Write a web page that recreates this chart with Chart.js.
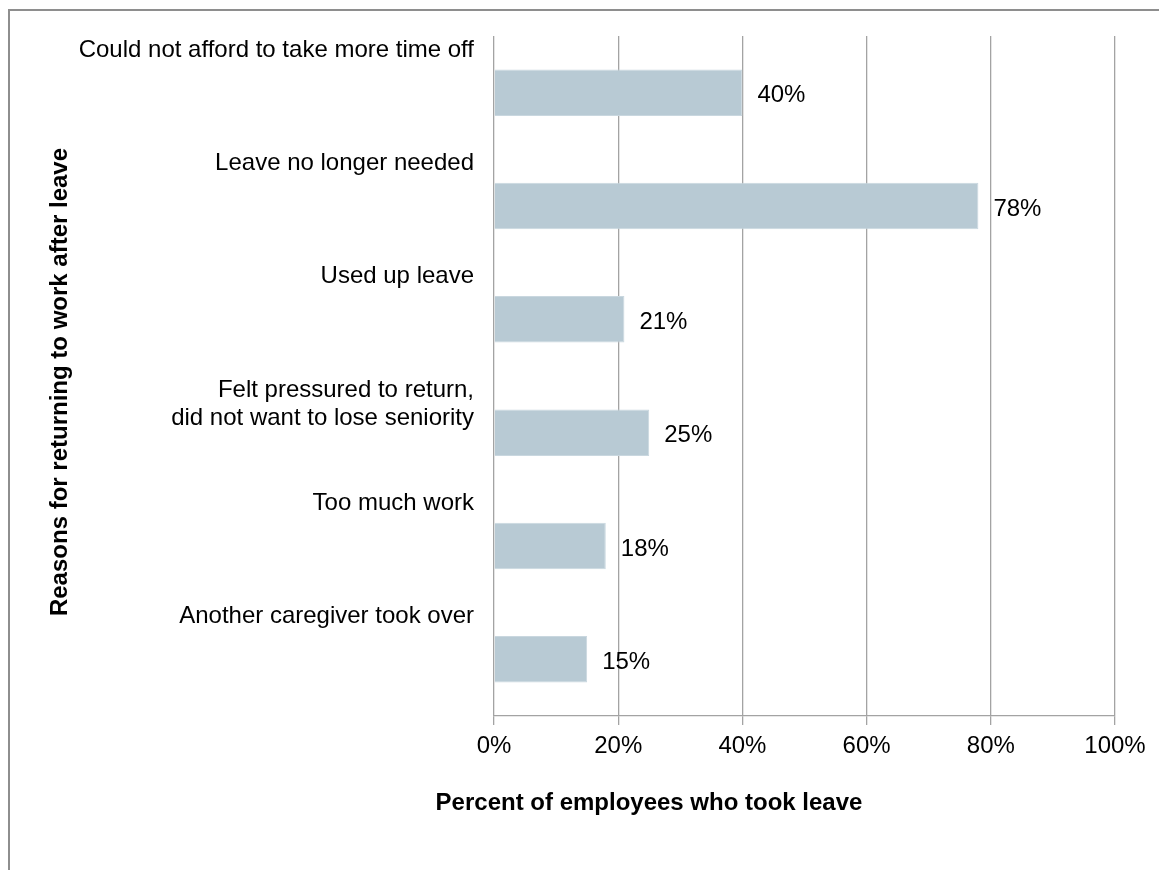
<!DOCTYPE html>
<html>
<head>
<meta charset="utf-8">
<script src="https://cdn.jsdelivr.net/npm/chart.js@4.4.1/dist/chart.umd.min.js"></script>
<style>
    html, body { margin: 0; padding: 0; background: #fff; }
    #frame {
        position: absolute; left: 8px; top: 9px; width: 1200px; height: 900px;
        border-left: 2px solid #8e8e8e; border-top: 2px solid #8e8e8e;
    }
    #wrap { position: absolute; left: 0; top: 0; width: 1159px; height: 870px; }
</style>
</head>
<body>
<div id="frame"></div>
<div id="wrap"><canvas id="chart1" width="1159" height="870"></canvas></div>
<script>
var categorias = [
    ['Could not afford to take more time off'],
    ['Leave no longer needed'],
    ['Used up leave'],
    ['Felt pressured to return,', 'did not want to lose seniority'],
    ['Too much work'],
    ['Another caregiver took over']
];
var percentuais = [40, 78, 21, 25, 18, 15];
var ticksX = [0, 20, 40, 60, 80, 100];

var FONTE = '"Liberation Sans", Arial, sans-serif';
var COR_GRADE = '#a3a3a3';

// rótulos das categorias, títulos dos eixos e valores nas barras
var textosPlugin = {
    id: 'textos',
    afterDraw: function (chart) {
        var ctx = chart.ctx;
        var y = chart.scales.y;
        var area = chart.chartArea;
        var faixa = (area.bottom - area.top) / categorias.length;

        ctx.save();
        ctx.fillStyle = '#000';
        ctx.font = '24px ' + FONTE;
        ctx.textAlign = 'right';
        ctx.textBaseline = 'middle';
        categorias.forEach(function (linhas, i) {
            var topo = y.getPixelForValue(i) - faixa / 2;
            linhas.forEach(function (txt, j) {
                ctx.fillText(txt, area.left - 20, topo + 14 + j * 28);
            });
        });

        // valores ao lado das barras
        ctx.textAlign = 'left';
        var meta = chart.getDatasetMeta(0);
        meta.data.forEach(function (barra, i) {
            ctx.fillText(percentuais[i] + '%', barra.x + 15, barra.y + 3);
        });

        // títulos dos eixos
        ctx.font = 'bold 24px ' + FONTE;
        ctx.textAlign = 'center';
        ctx.fillText('Percent of employees who took leave', 649, 803);

        ctx.translate(60, (area.top + area.bottom) / 2 + 6);
        ctx.rotate(-Math.PI / 2);
        ctx.fillText('Reasons for returning to work after leave', 0, 0);
        ctx.restore();
    }
};

var ctx1 = document.getElementById('chart1').getContext('2d');
var chart1 = new Chart(ctx1, {
    type: 'bar',
    data: {
        labels: categorias,
        datasets: [{
            data: percentuais,
            backgroundColor: '#b8cad4',
            borderColor: '#c9d7df',
            borderWidth: 1,
            borderSkipped: 'start',
            categoryPercentage: 1,
            barPercentage: 0.41
        }]
    },
    options: {
        indexAxis: 'y',
        responsive: false,
        animation: false,
        layout: { padding: { top: 36, right: 44, left: 0, bottom: 0 } },
        plugins: {
            legend: { display: false },
            tooltip: { enabled: false }
        },
        scales: {
            x: {
                min: 0,
                max: 100,
                afterFit: function (scale) { scale.height = 154; },
                afterBuildTicks: function (scale) {
                    scale.ticks = ticksX.map(function (v) { return { value: v }; });
                },
                grid: { color: COR_GRADE, lineWidth: 1.3, tickLength: 9, tickColor: COR_GRADE },
                border: { color: COR_GRADE, width: 1.3 },
                ticks: {
                    color: '#000',
                    padding: 7,
                    maxRotation: 0,
                    font: { family: FONTE, size: 24 },
                    callback: function (v) { return v + '%'; }
                }
            },
            y: {
                afterFit: function (scale) { scale.width = 494; },
                grid: { display: false },
                border: { display: false },
                ticks: { display: false }
            }
        }
    },
    plugins: [textosPlugin]
});
</script>
</body>
</html>
